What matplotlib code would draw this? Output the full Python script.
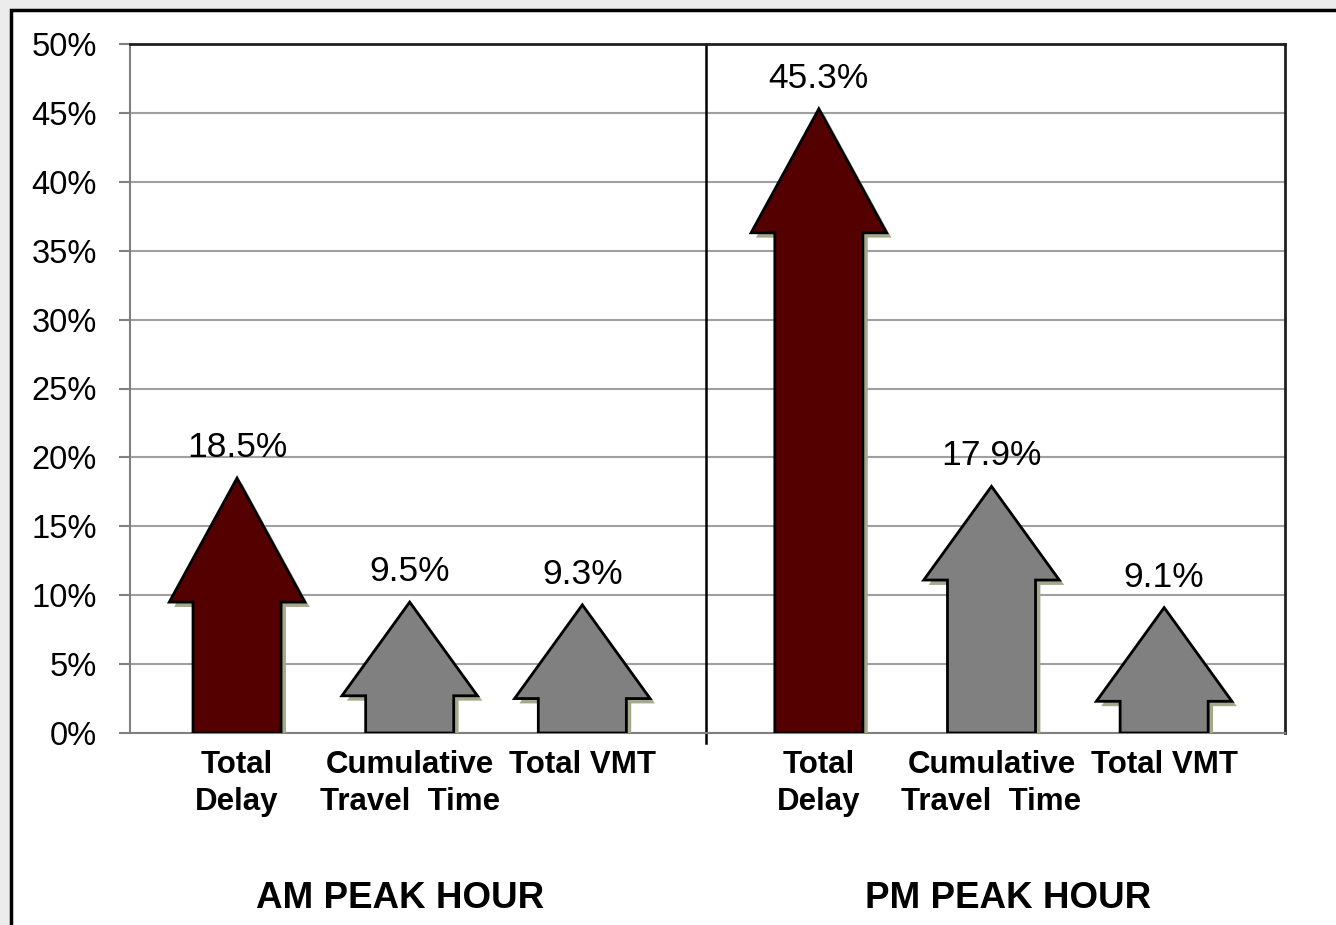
import matplotlib.pyplot as plt
import matplotlib.patheffects as pe
from matplotlib.patches import Polygon, Rectangle

plt.rcParams['font.family'] = ['Liberation Sans', 'DejaVu Sans']

# datos
categorias = ['Total\nDelay', 'Cumulative\nTravel  Time', 'Total VMT']
am_valores = [18.5, 9.5, 9.3]
pm_valores = [45.3, 17.9, 9.1]
grupos = ['AM PEAK HOUR', 'PM PEAK HOUR']
yticks = list(range(0, 51, 5))

rojo = '#550000'
gris = '#808080'

fig = plt.figure(figsize=(13.36, 9.25), dpi=100, facecolor='#ececec')
# marco blanco con borde negro
fig.patches.append(Rectangle((11 / 1336, -0.1), 1.2, 1.1 - 10 / 925,
                             transform=fig.transFigure, facecolor='white',
                             edgecolor='black', lw=2.5, zorder=-5))

ax = fig.add_axes([130 / 1336, 1 - 733 / 925, 1155 / 1336, 689 / 925])
ax.set_zorder(2)

gap = 1.37
pos = [0, 1, 2] + [i + 2 + gap for i in range(3)]
valores = am_valores + pm_valores
colores = [rojo, gris, gris] * 2
cabeza = [9.0, 6.8, 6.8] * 2
ancho_tronco = 0.51
ancho_cabeza = 0.785

sombra = [pe.SimplePatchShadow(offset=(3.5, -3.5), shadow_rgbFace='#a3a98a', alpha=1.0), pe.Normal()]

for x, v, c, h in zip(pos, valores, colores, cabeza):
    t = ancho_tronco / 2
    w = ancho_cabeza / 2
    base = v - h
    verts = [(x - t, 0), (x - t, base), (x - w, base), (x, v),
             (x + w, base), (x + t, base), (x + t, 0)]
    flecha = Polygon(verts, closed=True, facecolor=c, edgecolor='black',
                     lw=2, zorder=3, joinstyle='miter')
    flecha.set_path_effects(sombra)
    ax.add_patch(flecha)
    ax.annotate(f'{v:.1f}%', (x, v), xytext=(0, 10), textcoords='offset points',
                ha='center', va='bottom', fontsize=25.5, zorder=4)

ax.set_xlim(-0.62, pos[-1] + 0.7)
ax.set_ylim(0, 50)
ax.set_yticks(yticks)
ax.set_yticklabels([f'{t}%' for t in yticks], fontsize=23.5)
ax.tick_params(axis='y', length=8, width=1.5, color='#808080', pad=16)
ax.set_xticks(pos)
ax.set_xticklabels(categorias * 2, fontsize=22.5, fontweight='bold')
for lab in ax.get_xticklabels():
    lab.set_linespacing(1.32)
ax.tick_params(axis='x', length=0, pad=12)
ax.grid(axis='y', color='#a0a0a0', lw=1.5, zorder=1)
ax.set_axisbelow(True)

for lado in ['left', 'bottom']:
    ax.spines[lado].set_color('#808080')
    ax.spines[lado].set_linewidth(1.5)
for lado in ['top', 'right']:
    ax.spines[lado].set_color('#202020')
    ax.spines[lado].set_linewidth(2)

# linea divisoria entre AM y PM
div = 2 + gap / 2 + 0.03
ax.plot([div, div], [-0.75, 50], color='black', lw=1.8, clip_on=False, zorder=2)

fig.text(400 / 1336, 1 - 898 / 925, grupos[0], ha='center', va='center',
         fontsize=26.5, fontweight='bold')
fig.text(1008 / 1336, 1 - 898 / 925, grupos[1], ha='center', va='center',
         fontsize=26.5, fontweight='bold')

fig.savefig('out.png', dpi=100, facecolor=fig.get_facecolor())
